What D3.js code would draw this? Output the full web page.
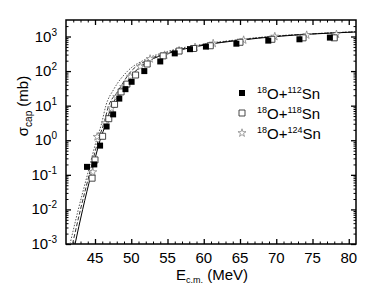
<!DOCTYPE html>
<html>
<head>
<meta charset="utf-8">
<script src="https://cdn.jsdelivr.net/npm/d3@7"></script>
<style>
  body { margin: 0; background: #fff; }
  svg { font-family: 'Liberation Sans', Arial, sans-serif; }
</style>
</head>
<body>
<svg id="chart" width="379" height="302"></svg>
<script>
// measured points, 18O + Sn
const e112 = [43.9, 44.9, 45.7, 46.6, 47.5, 48.35, 49.2, 50.05, 51.8, 54.0, 56.0, 58.1, 60.3, 64.5, 68.9, 73.2, 77.4]
const s112 = [0.17, 0.2, 0.7, 2.5, 5.6, 16, 30, 49, 100, 190, 325, 430, 510, 620, 760, 830, 930]
const e118 = [44.6, 45.0, 46.05, 46.9, 47.7, 48.6, 49.4, 50.6, 52.2, 54.4, 56.6, 58.6, 60.9, 65.0, 69.4, 73.7, 78.0]
const s118 = [0.08, 0.27, 1.3, 4.2, 10.9, 25, 42, 77, 160, 275, 380, 450, 540, 680, 830, 915, 915]
const e124 = [44.7, 45.3, 46.4, 47.25, 48.0, 48.95, 49.9, 51.25, 52.6, 54.6, 56.6, 58.8, 61.3, 65.5, 69.8, 74.2, 78.3]
const s124 = [0.12, 1.26, 3.1, 8.4, 18, 35, 69, 135, 225, 290, 390, 490, 630, 790, 1000, 1100, 1160]

// calculated curves
const solidE = [42.25, 43.3, 44.45, 45.7, 46.5, 47.3, 48.5, 50.3, 52.5, 55, 60, 65, 70, 75, 81]
const solidS = [1e-3, 1e-2, 0.1, 1, 3, 10, 22, 85, 200, 320, 560, 780, 1000, 1180, 1350]
const dashE = [41.9, 43.0, 44.2, 45.45, 46.2, 46.9, 48.1, 49.9, 52.3, 55, 60, 65, 70, 75, 81]
const dashS = [1e-3, 1e-2, 0.1, 1, 3, 10, 25, 95, 210, 340, 580, 800, 1020, 1190, 1365]
const dotE = [41.55, 42.7, 43.95, 45.2, 45.9, 46.5, 47.6, 49.5, 52.0, 55, 60, 65, 70, 75, 81]
const dotS = [1e-3, 1e-2, 0.1, 1, 3, 10, 30, 100, 220, 370, 600, 820, 1040, 1200, 1380]

const xTicks = [45, 50, 55, 60, 65, 70, 75, 80]
const yExps = [-3, -2, -1, 0, 1, 2, 3]
const legendLabels = ['112', '118', '124']

let margin = { top: 20, right: 23, bottom: 58, left: 66 }
let width = 379 - margin.left - margin.right
let height = 302 - margin.top - margin.bottom

let svg = d3.select('#chart')
let chart = svg.append('g')
  .attr('transform', 'translate(' + margin.left + ',' + margin.top + ')')

let x = d3.scaleLinear().domain([41, 81]).range([0, width])
let y = d3.scaleLog().domain([1e-3, 3000]).range([height, 0])

// minor ticks
let xMinor = d3.range(42, 81, 1).filter(v => v % 5 !== 0)
let yMinor = []
yExps.forEach(p => { for (let k = 2; k <= 9; k++) { let v = k * Math.pow(10, p); if (v < 3000) yMinor.push(v) } })
let yMajor = yExps.map(p => Math.pow(10, p))

function ticks (axis, vals, size) {
  return axis.tickValues(vals).tickSize(size).tickSizeOuter(0).tickFormat('')
}
// inward ticks on all four sides: [generator, major, minor, transform]
let axes = [
  [() => d3.axisBottom(x), xTicks, xMinor, 'translate(0,' + height + ')'],
  [() => d3.axisTop(x), xTicks, xMinor, null],
  [() => d3.axisLeft(y), yMajor, yMinor, null],
  [() => d3.axisRight(y), yMajor, yMinor, 'translate(' + width + ',0)']
]
axes.forEach(a => {
  let g1 = chart.append('g').attr('transform', a[3]).call(ticks(a[0](), a[1], -5))
  g1.select('.domain').remove()
  g1.selectAll('line').attr('stroke-width', 1.3)
  let g2 = chart.append('g').attr('transform', a[3]).call(ticks(a[0](), a[2], -2.5))
  g2.select('.domain').remove()
  g2.selectAll('line').attr('stroke-width', 1)
})

// frame
chart.append('rect')
  .attr('width', width).attr('height', height)
  .attr('fill', 'none').attr('stroke', '#000').attr('stroke-width', 1.5)

// tick labels
chart.selectAll('.xlab').data(xTicks).enter().append('text')
  .attr('x', d => x(d)).attr('y', height + 19)
  .attr('text-anchor', 'middle').attr('font-size', 15)
  .text(d => d)

let yl = chart.selectAll('.ylab').data(yExps).enter().append('text')
  .attr('x', -9).attr('y', d => y(Math.pow(10, d)) + 5)
  .attr('text-anchor', 'end').attr('font-size', 15)
yl.append('tspan').text('10')
yl.append('tspan').attr('font-size', 10).attr('dy', -6).text(d => d < 0 ? '-' + (-d) : d)

// axis titles
let xt = svg.append('text')
  .attr('x', margin.left + width / 2 + 1).attr('y', 280)
  .attr('text-anchor', 'middle').attr('font-size', 15)
xt.append('tspan').text('E')
xt.append('tspan').attr('font-size', 9).attr('dy', 3).text('c.m.')
xt.append('tspan').attr('dy', -3).text(' (MeV)')

let yt = svg.append('text')
  .attr('transform', 'translate(28,' + (margin.top + 86) + ') rotate(-90)')
  .attr('text-anchor', 'middle').attr('font-size', 15)
yt.append('tspan').text('σ')
yt.append('tspan').attr('font-size', 10).attr('dy', 4).text('cap')
yt.append('tspan').attr('dy', -4).text(' (mb)')

// curves
let lineGen = d3.line()
  .x(d => x(d[0]))
  .y(d => y(d[1]))
  .curve(d3.curveMonotoneX)
let plot = chart.append('g')
plot.append('path').datum(dotE.map((e, i) => [e, dotS[i]]))
  .attr('d', lineGen).attr('fill', 'none')
  .attr('stroke', '#555').attr('stroke-width', 1).attr('stroke-dasharray', '1.5,1.5')
plot.append('path').datum(dashE.map((e, i) => [e, dashS[i]]))
  .attr('d', lineGen).attr('fill', 'none')
  .attr('stroke', '#333').attr('stroke-width', 1).attr('stroke-dasharray', '4,2')
plot.append('path').datum(solidE.map((e, i) => [e, solidS[i]]))
  .attr('d', lineGen).attr('fill', 'none')
  .attr('stroke', '#000').attr('stroke-width', 1)

let sq = d3.symbol().type(d3.symbolSquare).size(36)
let star = d3.symbol().type(d3.symbolStar).size(20)

plot.selectAll('.p124').data(e124.map((e, i) => [e, s124[i]])).enter().append('path')
  .attr('transform', d => 'translate(' + x(d[0]) + ',' + y(d[1]) + ')')
  .attr('d', star).attr('fill', '#fff').attr('stroke', '#888').attr('stroke-width', 0.8)
plot.selectAll('.p118').data(e118.map((e, i) => [e, s118[i]])).enter().append('path')
  .attr('transform', d => 'translate(' + x(d[0]) + ',' + y(d[1]) + ')')
  .attr('d', sq).attr('fill', '#fff').attr('stroke', '#333').attr('stroke-width', 0.9)
plot.selectAll('.p112').data(e112.map((e, i) => [e, s112[i]])).enter().append('path')
  .attr('transform', d => 'translate(' + x(d[0]) + ',' + y(d[1]) + ')')
  .attr('d', sq).attr('fill', '#000')

// legend
let leg = svg.append('g').attr('transform', 'translate(242,93)')
let markers = [
  g => g.append('path').attr('d', sq).attr('fill', '#000'),
  g => g.append('path').attr('d', sq).attr('fill', '#fff').attr('stroke', '#333').attr('stroke-width', 0.9),
  g => g.append('path').attr('d', star).attr('fill', '#fff').attr('stroke', '#888').attr('stroke-width', 0.8)
]
legendLabels.forEach((lab, i) => {
  let row = leg.append('g').attr('transform', 'translate(0,' + i * 20 + ')')
  markers[i](row)
  let t = row.append('text').attr('x', 15).attr('y', 6).attr('font-size', 15)
  t.append('tspan').attr('font-size', 9).attr('dy', -6).text('18')
  t.append('tspan').attr('dy', 6).text('O+')
  t.append('tspan').attr('font-size', 9).attr('dy', -6).text(lab)
  t.append('tspan').attr('dy', 6).text('Sn')
})
</script>
</body>
</html>
